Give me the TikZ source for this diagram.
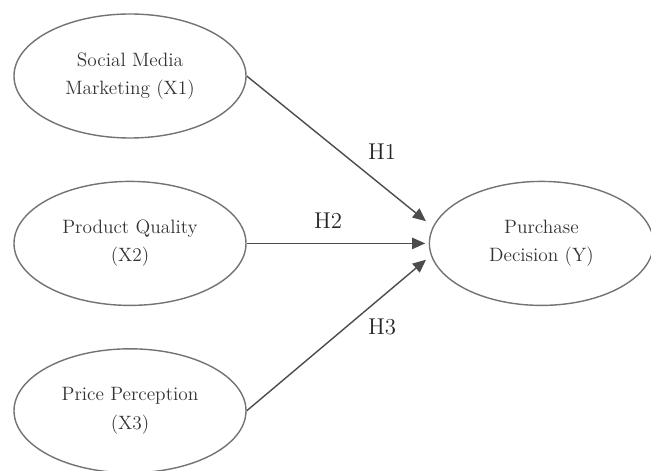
\documentclass[tikz,border=0pt]{standalone}
\usepackage{tikz}
\usetikzlibrary{shapes, positioning, arrows.meta, calc}

\begin{document}
\begin{tikzpicture}[
    node distance=0.84cm,
    var/.style={ellipse, draw=black!55, thick, minimum width=4.64cm, minimum height=2.48cm, inner sep=0pt, align=center, text=black!80, font=\fontsize{11}{16}\selectfont},
    arrow/.style={-{Triangle[length=7.5pt, width=6.5pt]}, black!70, thick, shorten >=2pt},
    hyp/.style={text=black!85, font=\fontsize{13}{15}\selectfont}
    ]
\useasboundingbox (0,0) rectangle (13.02,-9.42);
\node[var] (X1) at (2.6,-1.52) {Social Media\\Marketing (X1)};
\node[var, below=of X1] (X2) {Product Quality\\(X2)};
\node[var, below=of X2] (X3) {Price Perception\\(X3)};
\node[var, minimum width=4.48cm, right=3.64cm of X2] (Y) {Purchase\\Decision (Y)};

\node[hyp] (H1) at (7.64,-3.04) {H1};
\node[hyp] (H2) at (6.56,-4.42) {H2};
\node[hyp] (H3) at (7.64,-6.54) {H3};

\draw[arrow] (X1.east) -- ([yshift=0.4cm]Y.west);
\draw[arrow] (X2.east) -- (Y.west);
\draw[arrow] (X3.east) -- ([yshift=-0.28cm]Y.west);
\end{tikzpicture}
\end{document}
